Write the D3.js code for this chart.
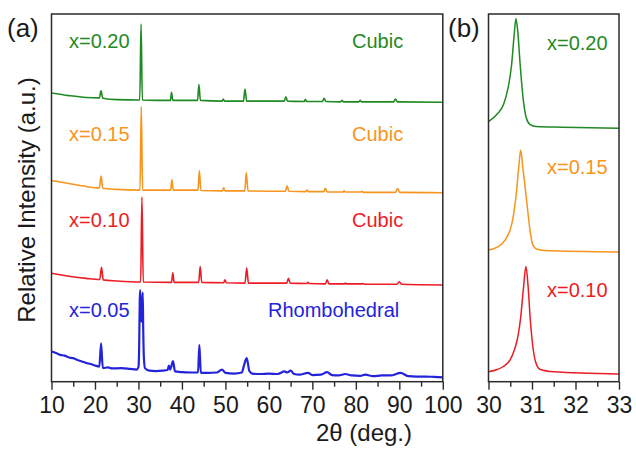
<!DOCTYPE html>
<html>
<head>
<meta charset="utf-8">
<script src="https://cdn.jsdelivr.net/npm/d3@7"></script>
<style>
  html, body { margin: 0; padding: 0; background: #fff; }
  svg { display: block; font-family: "Liberation Sans", Arial, Helvetica, sans-serif; }
</style>
</head>
<body>
<svg id="chart" width="636" height="451"></svg>
<script>
// Compositions, phase assignments and colours
const compositions = ["x=0.05", "x=0.10", "x=0.15", "x=0.20"];
const phases = ["Rhombohedral", "Cubic", "Cubic", "Cubic"];
const colors = ["#2323d9", "#ec1c24", "#f7941d", "#1f8a23"];

// Full-range patterns, [2θ, stacked relative intensity]
const patternX020 = [[10,78.5],[14,77.8],[18,77.3],[21.0,77.2],[21.4,79.1],[21.8,77.1],[25,76.7],[30.3,76.6],[30.6,97.3],[30.9,76.6],[34,76.5],[37.35,76.5],[37.6,78.7],[37.9,76.5],[43.6,76.5],[43.9,80.8],[44.25,76.5],[49.25,76.3],[49.5,76.9],[49.8,76.3],[54.15,76.3],[54.5,79.6],[54.9,76.3],[63.55,76.3],[63.9,77.5],[64.3,76.3],[68.1,76.2],[68.4,76.7],[68.7,76.2],[72.35,76.2],[72.7,77.1],[73.1,76.2],[76.5,76.1],[76.8,76.5],[77.1,76.1],[80.7,76.1],[81.0,76.5],[81.3,76.1],[88.7,76.1],[89.1,76.9],[89.6,76.1],[100,76.0]];

const patternX015 = [[10,54.7],[14,53.9],[18,53.1],[21.0,52.7],[21.4,55.9],[21.8,52.6],[25,52.3],[30.35,52.1],[30.65,74.8],[30.95,52.1],[37.4,52.1],[37.7,54.9],[38.0,52.1],[43.7,52.1],[44.0,57.4],[44.35,52.0],[49.35,51.9],[49.6,52.7],[49.9,51.9],[54.45,51.9],[54.8,56.8],[55.2,51.9],[63.8,51.8],[64.2,53.2],[64.6,51.8],[68.5,51.7],[68.8,52.1],[69.1,51.7],[72.6,51.7],[73.0,52.6],[73.4,51.6],[77.0,51.6],[77.3,51.9],[77.6,51.6],[81.1,51.6],[81.4,51.8],[81.7,51.5],[89.1,51.5],[89.6,52.5],[90.1,51.5],[100,51.4]];

const patternX010 = [[10,29.5],[14,28.7],[18,28.1],[21.1,27.8],[21.5,31.1],[21.9,27.7],[25,27.4],[30.5,27.1],[30.8,50.2],[31.1,27.1],[37.6,27.0],[37.9,29.6],[38.2,27.0],[43.85,27.0],[44.2,31.3],[44.55,27.0],[49.6,26.9],[49.9,27.7],[50.2,26.9],[54.5,26.8],[54.9,30.9],[55.3,26.8],[64.1,26.8],[64.5,28.1],[64.9,26.8],[68.7,26.7],[69.0,27.0],[69.3,26.7],[73.0,26.6],[73.4,27.7],[73.8,26.6],[77.3,26.6],[77.6,26.8],[77.9,26.6],[81.4,26.6],[81.7,26.7],[82.0,26.5],[89.5,26.5],[90.0,27.2],[90.5,26.5],[100,26.3]];

const patternX005 = [[10,8.2],[11,7.8],[12,7.3],[13,7.1],[14,6.6],[15,6.4],[16,5.9],[17,5.5],[18,5.1],[19,4.8],[20,4.4],[21.0,4.1],[21.4,10.4],[21.8,3.7],[23,3.9],[24,3.6],[26,3.7],[28,3.5],[29.6,3.3],[30.0,4.0],[30.15,8.5],[30.3,22.0],[30.4,24.9],[30.52,18.0],[30.7,16.3],[30.88,21.5],[30.98,24.2],[31.1,14.0],[31.25,6.5],[31.5,3.7],[32.5,3.0],[34,2.9],[35.5,3.0],[36.7,3.2],[37.0,4.4],[37.3,3.3],[37.95,5.6],[38.4,2.8],[40,2.6],[42,2.5],[43.7,2.5],[44.0,10.0],[44.35,2.4],[46,2.4],[48,2.5],[49.2,3.3],[50.0,2.4],[52,2.2],[53.8,2.5],[54.2,4.1],[54.9,6.4],[55.5,2.9],[56.2,2.2],[58,2.1],[60,2.2],[62,2.1],[63.6,2.8],[64.2,2.5],[65.0,3.0],[65.8,2.1],[67,1.9],[69.0,2.4],[70,1.8],[72,1.9],[73.4,2.6],[74.5,1.8],[76,1.7],[77.6,2.1],[79,1.7],[81,1.6],[82.2,1.9],[84,1.5],[86,1.7],[88,1.7],[90.3,2.4],[92,1.5],[94,1.4],[96,1.4],[98,1.3],[100,1.2]];

// Enlarged main reflection near 31°, [2θ, stacked relative intensity]
const peakX020 = [[30.0,70.7],[30.2,72.8],[30.35,75.5],[30.45,79.9],[30.53,86.1],[30.59,94.3],[30.63,98.8],[30.67,95.6],[30.73,85.9],[30.8,76.6],[30.87,71.7],[30.95,70.0],[31.1,69.4],[31.7,69.2],[33.0,68.9]];
const peakX015 = [[30.0,35.8],[30.2,36.6],[30.38,38.5],[30.54,43.1],[30.64,51.3],[30.7,58.9],[30.74,63.0],[30.79,58.1],[30.85,52.1],[30.9,46.7],[30.96,40.7],[31.02,37.2],[31.1,36.1],[31.3,35.7],[33.0,35.3]];
const peakX010 = [[30.0,2.7],[30.2,3.3],[30.35,4.2],[30.5,6.0],[30.6,8.8],[30.68,12.5],[30.74,17.5],[30.8,25.0],[30.86,31.3],[30.91,26.0],[30.96,17.0],[31.02,9.5],[31.08,5.5],[31.18,3.4],[31.5,2.7],[33.0,2.1]];

// Axis ticks
const ticksA = [10, 20, 30, 40, 50, 60, 70, 80, 90, 100];
const minorA = [15, 25, 35, 45, 55, 65, 75, 85, 95];
const ticksB = [30, 31, 32, 33];
const minorB = [30.5, 31.5, 32.5];

const patterns = [patternX005, patternX010, patternX015, patternX020];
const zoomPeaks = [peakX010, peakX015, peakX020];
const zoomColors = [colors[1], colors[2], colors[3]];
const zoomLabels = [compositions[1], compositions[2], compositions[3]];

const svg = d3.select("#chart");
const plotTop = 14, plotBottom = 381.7;
const xA = d3.scaleLinear().domain([10, 100]).range([51.5, 442.8]);
const xB = d3.scaleLinear().domain([30, 33]).range([488.5, 619]);
const y = d3.scaleLinear().domain([0, 100]).range([plotBottom, plotTop]);

const frame = "#2b2b2b";
const tickFont = 23;
const labelFont = 20;

function drawAxis(scale, majors, minors) {
  const gMaj = svg.append("g").attr("transform", `translate(0,${plotBottom})`)
    .call(d3.axisBottom(scale).tickValues(majors).tickSize(8).tickSizeOuter(0).tickPadding(7).tickFormat(d3.format("d")));
  gMaj.select(".domain").remove();
  gMaj.selectAll("line").attr("stroke", frame).attr("stroke-width", 1.4);
  gMaj.selectAll("text").attr("font-size", tickFont).attr("fill", "#1a1a1a")
    .attr("font-family", "'Liberation Sans', Arial, sans-serif");
  const gMin = svg.append("g").attr("transform", `translate(0,${plotBottom})`)
    .call(d3.axisBottom(scale).tickValues(minors).tickSize(5).tickSizeOuter(0).tickFormat(""));
  gMin.select(".domain").remove();
  gMin.selectAll("line").attr("stroke", frame).attr("stroke-width", 1.4);
}

drawAxis(xA, ticksA, minorA);
drawAxis(xB, ticksB, minorB);

// Curves, panel (a)
const lineA = d3.line().x(d => xA(d[0])).y(d => y(d[1])).curve(d3.curveMonotoneX);
patterns.forEach((p, i) => {
  svg.append("path").datum(p).attr("d", lineA)
    .attr("fill", "none").attr("stroke", colors[i])
    .attr("stroke-width", i === 0 ? 2.2 : 1.6).attr("stroke-linejoin", "round");
});

// Curves, panel (b)
const lineB = d3.line().x(d => xB(d[0])).y(d => y(d[1])).curve(d3.curveMonotoneX);
zoomPeaks.forEach((p, i) => {
  svg.append("path").datum(p).attr("d", lineB)
    .attr("fill", "none").attr("stroke", zoomColors[i])
    .attr("stroke-width", 1.5).attr("stroke-linejoin", "round");
});

// Panel frames
[[xA, 10, 100], [xB, 30, 33]].forEach(([s, a, b]) => {
  svg.append("rect")
    .attr("x", s(a)).attr("y", plotTop)
    .attr("width", s(b) - s(a)).attr("height", plotBottom - plotTop)
    .attr("fill", "none").attr("stroke", frame).attr("stroke-width", 1.5);
});

// Composition and phase labels, panel (a)
const labelY = [316.7, 226.7, 140.5, 48.3];
compositions.forEach((c, i) => {
  svg.append("text").attr("x", 69).attr("y", labelY[i])
    .attr("font-size", labelFont).attr("fill", colors[i]).text(c);
  svg.append("text").attr("x", i === 0 ? 268 : 352).attr("y", labelY[i])
    .attr("font-size", labelFont).attr("fill", colors[i]).text(phases[i]);
});

// Composition labels, panel (b)
const labelYB = [297, 173.5, 49.5];
zoomLabels.forEach((c, i) => {
  svg.append("text").attr("x", 547).attr("y", labelYB[i])
    .attr("font-size", labelFont).attr("fill", zoomColors[i]).text(c);
});

// Panel letters
svg.append("text").attr("x", 7).attr("y", 37).attr("font-size", 26).attr("fill", "#1a1a1a").text("(a)");
svg.append("text").attr("x", 448).attr("y", 37).attr("font-size", 26).attr("fill", "#1a1a1a").text("(b)");

// Axis titles
svg.append("text").attr("x", 364).attr("y", 441).attr("text-anchor", "middle")
  .attr("font-size", 24).attr("fill", "#1a1a1a").text("2θ (deg.)");
svg.append("text").attr("transform", "translate(35,200) rotate(-90)")
  .attr("text-anchor", "middle").attr("font-size", 24).attr("fill", "#1a1a1a")
  .text("Relative Intensity (a.u.)");
</script>
</body>
</html>
